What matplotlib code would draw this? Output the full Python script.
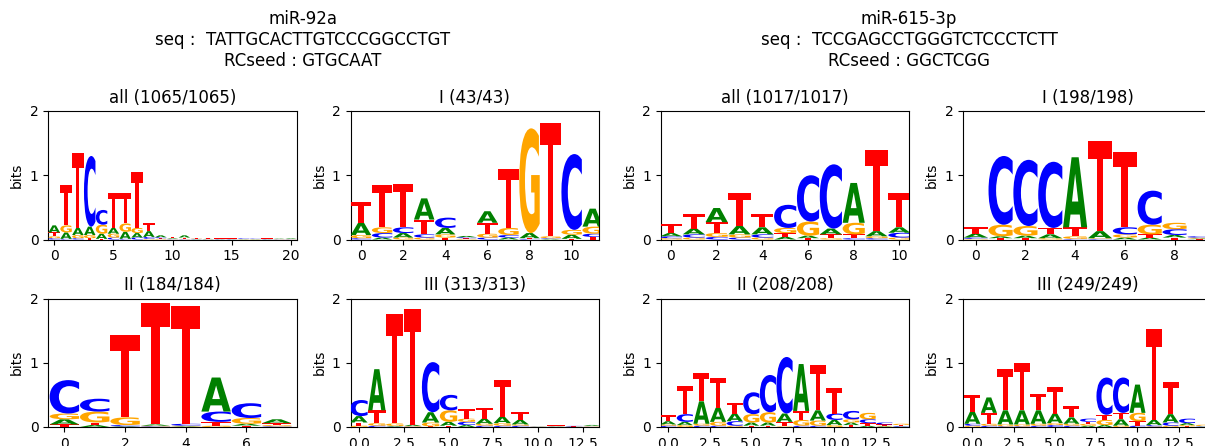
import numpy as np
import matplotlib
matplotlib.use("Agg")
import matplotlib.pyplot as plt
from matplotlib.textpath import TextPath
from matplotlib.patches import PathPatch
from matplotlib.font_manager import FontProperties
from matplotlib.transforms import Affine2D

# letter heights (bits) per position, columns are A, C, G, T
bases = ["A", "C", "G", "T"]
colors = {"A": "#008000", "C": "#0000ff", "G": "#ffa500", "T": "#ff0000"}

m92_all = [
    [0.11, 0.02, 0.03, 0.06], [0.10, 0.01, 0.11, 0.63], [0.11, 0.02, 0.05, 1.16],
    [0.13, 1.10, 0.05, 0.02], [0.08, 0.23, 0.14, 0.01], [0.09, 0.03, 0.06, 0.55],
    [0.11, 0.01, 0.13, 0.47], [0.07, 0.03, 0.08, 0.87], [0.09, 0.03, 0.01, 0.12],
    [0.03, 0.015, 0.01, 0.01], [0.01, 0.005, 0.005, 0.02], [0.035, 0.005, 0.005, 0.02],
    [0.005, 0.005, 0.005, 0.005], [0.005, 0.003, 0.003, 0.012], [0.004, 0.004, 0.004, 0.004],
    [0.004, 0.004, 0.004, 0.004], [0.004, 0.01, 0.004, 0.004], [0.004, 0.006, 0.004, 0.004],
    [0.004, 0.004, 0.004, 0.004], [0.006, 0.004, 0.004, 0.004], [0.01, 0.004, 0.004, 0.004],
]
m92_I = [
    [0.19, 0.02, 0.05, 0.32], [0.03, 0.07, 0.09, 0.66], [0.07, 0.09, 0.03, 0.68],
    [0.33, 0.05, 0.03, 0.23], [0.10, 0.16, 0.05, 0.03], [0.02, 0.015, 0.01, 0.01],
    [0.18, 0.03, 0.06, 0.17], [0.03, 0.04, 0.11, 0.92], [0.08, 0.01, 1.63, 0.01],
    [0.01, 0.01, 0.03, 1.76], [0.065, 1.18, 0.075, 0.01], [0.28, 0.05, 0.11, 0.04],
]
m92_II = [
    [0.08, 0.52, 0.09, 0.04], [0.03, 0.20, 0.17, 0.04], [0.01, 0.02, 0.12, 1.28],
    [0.02, 0.01, 0.01, 1.89], [0.01, 0.03, 0.01, 1.83], [0.53, 0.16, 0.02, 0.06],
    [0.03, 0.23, 0.09, 0.02], [0.06, 0.01, 0.02, 0.03],
]
m92_III = [
    [0.10, 0.25, 0.02, 0.05], [0.64, 0.02, 0.04, 0.20], [0.01, 0.005, 0.04, 1.70],
    [0.02, 0.005, 0.01, 1.80], [0.16, 0.78, 0.06, 0.01], [0.06, 0.24, 0.18, 0.02],
    [0.03, 0.05, 0.05, 0.15], [0.08, 0.02, 0.03, 0.17], [0.10, 0.02, 0.04, 0.57],
    [0.07, 0.02, 0.02, 0.12], [0.003, 0.003, 0.003, 0.003], [0.004, 0.003, 0.003, 0.015],
    [0.003, 0.008, 0.003, 0.003], [0.015, 0.003, 0.006, 0.008],
]
m615_all = [
    [0.05, 0.03, 0.02, 0.14], [0.09, 0.05, 0.03, 0.22], [0.22, 0.04, 0.06, 0.17],
    [0.13, 0.03, 0.05, 0.51], [0.11, 0.05, 0.03, 0.20], [0.04, 0.36, 0.08, 0.06],
    [0.04, 0.72, 0.22, 0.02], [0.09, 1.00, 0.02, 0.06], [0.62, 0.02, 0.18, 0.06],
    [0.08, 0.02, 0.03, 1.26], [0.085, 0.075, 0.03, 0.53],
]
m615_I = [
    [0.06, 0.02, 0.01, 0.10], [0.03, 1.07, 0.18, 0.02], [0.04, 1.03, 0.15, 0.02],
    [0.06, 1.03, 0.02, 0.10], [1.09, 0.01, 0.04, 0.14], [0.11, 0.01, 0.01, 1.40],
    [0.03, 0.11, 0.05, 1.17], [0.03, 0.53, 0.15, 0.05], [0.04, 0.09, 0.10, 0.03],
    [0.01, 0.02, 0.015, 0.005],
]
m615_II = [
    [0.05, 0.02, 0.02, 0.09], [0.05, 0.12, 0.03, 0.44], [0.35, 0.02, 0.03, 0.44],
    [0.22, 0.02, 0.06, 0.47], [0.12, 0.07, 0.02, 0.16], [0.05, 0.34, 0.13, 0.02],
    [0.05, 0.58, 0.16, 0.02], [0.13, 0.88, 0.01, 0.07], [0.73, 0.02, 0.09, 0.14],
    [0.16, 0.02, 0.08, 0.70], [0.08, 0.10, 0.03, 0.39], [0.04, 0.13, 0.05, 0.03],
    [0.02, 0.06, 0.10, 0.04], [0.01, 0.03, 0.01, 0.02], [0.005, 0.01, 0.02, 0.015],
]
m615_III = [
    [0.19, 0.03, 0.02, 0.26], [0.24, 0.02, 0.03, 0.17], [0.22, 0.01, 0.03, 0.64],
    [0.22, 0.01, 0.03, 0.74], [0.21, 0.02, 0.03, 0.25], [0.15, 0.03, 0.03, 0.41],
    [0.10, 0.02, 0.03, 0.17], [0.02, 0.05, 0.03, 0.03], [0.03, 0.58, 0.08, 0.08],
    [0.10, 0.55, 0.02, 0.10], [0.44, 0.02, 0.13, 0.07], [0.08, 0.02, 0.01, 1.41],
    [0.13, 0.05, 0.02, 0.50], [0.03, 0.07, 0.02, 0.01], [0.005, 0.005, 0.02, 0.005],
]

titles_92 = ["all (1065/1065)", "I (43/43)", "II (184/184)", "III (313/313)"]
titles_615 = ["all (1017/1017)", "I (198/198)", "II (208/208)", "III (249/249)"]
head_92 = "miR-92a\nseq :  TATTGCACTTGTCCCGGCCTGT\nRCseed : GTGCAAT"
head_615 = "miR-615-3p\nseq :  TCCGAGCCTGGGTCTCCCTCTT\nRCseed : GGCTCGG"

ticks5 = [0, 5, 10, 15, 20]
ticks2 = [0, 2, 4, 6, 8, 10]
ticks25 = [0.0, 2.5, 5.0, 7.5, 10.0, 12.5]

W, H = 1205, 446
fp = FontProperties(family="DejaVu Sans", weight="bold")


def draw_glyph(ax, ch, x, floor, ceil, width=0.97):
    tp = TextPath((0, 0), ch, size=1, prop=fp)
    ext = tp.get_extents()
    tr = (Affine2D().translate(-ext.x0, -ext.y0)
          .scale(width / ext.width, (ceil - floor) / ext.height)
          .translate(x - width / 2, floor))
    ax.add_patch(PathPatch(tr.transform_path(tp), facecolor=colors[ch],
                           edgecolor="none", zorder=3))


def logo(ax, mat):
    for i, row in enumerate(mat):
        order = np.argsort(row, kind="stable")
        floor = 0.0
        for k in order:
            h = row[k]
            draw_glyph(ax, bases[k], i, floor, floor + h)
            floor += h


def add_ax(left, top, w=248.5, h=128.5):
    return fig.add_axes([left / W, (H - top - h) / H, w / W, h / H])


fig = plt.figure(figsize=(W / 100, H / 100), dpi=100)

panels = [
    (m92_all, titles_92[0], 48.3, 111, (-0.5, 20.5), ticks5),
    (m92_I, titles_92[1], 350.5, 111, (-0.5, 11.3), ticks2),
    (m92_II, titles_92[2], 48.3, 298.5, (-0.53, 7.66), ticks2[:4]),
    (m92_III, titles_92[3], 350.5, 298.5, (-0.47, 13.4), ticks25),
    (m615_all, titles_615[0], 660.7, 111, (-0.45, 10.43), ticks2),
    (m615_I, titles_615[1], 963.3, 111, (-0.5, 9.5), ticks2[:5]),
    (m615_II, titles_615[2], 660.7, 298.5, (-0.45, 14.5), ticks25),
    (m615_III, titles_615[3], 963.3, 298.5, (-0.55, 14.5), ticks25),
]

for mat, title, left, top, xl, xt in panels:
    ax = add_ax(left, top)
    logo(ax, mat)
    ax.set_xticks(xt)
    ax.set_xlim(*xl)
    ax.set_ylim(0, 2)
    ax.set_yticks([0, 1, 2])
    ax.set_ylabel("bits")
    ax.set_title(title, fontsize=12)

fig.text(303 / W, 1 - 40 / H, head_92, ha="center", va="center",
         multialignment="center", fontsize=12)
fig.text(909 / W, 1 - 40 / H, head_615, ha="center", va="center",
         multialignment="center", fontsize=12)

fig.savefig("out.png", dpi=100)
